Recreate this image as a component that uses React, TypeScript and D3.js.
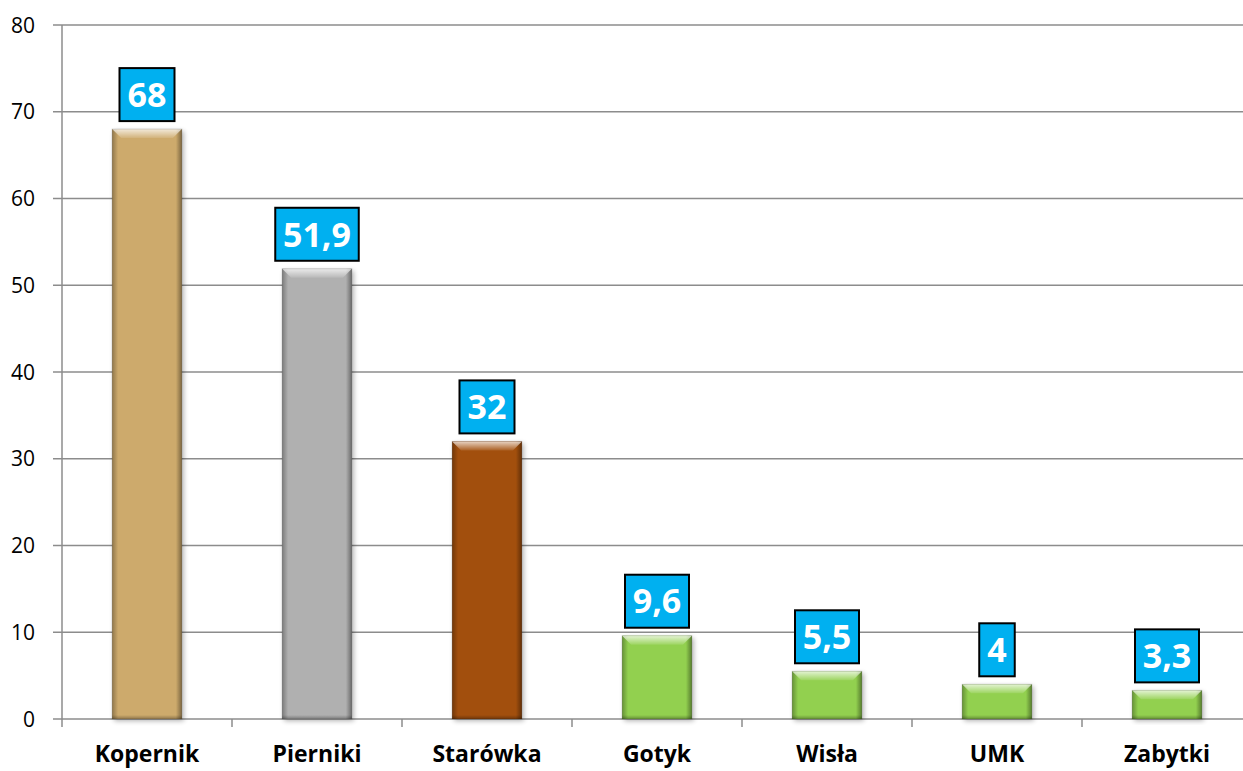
import * as React from 'react'
import { scaleBand, scaleLinear, range } from 'd3'

const categories = ['Kopernik', 'Pierniki', 'Starówka', 'Gotyk', 'Wisła', 'UMK', 'Zabytki']
const values = [68, 51.9, 32, 9.6, 5.5, 4, 3.3]
const valueLabels = ['68', '51,9', '32', '9,6', '5,5', '4', '3,3']
const barColors = ['#CDAA6C', '#B0B0B0', '#A24F0E', '#92D050', '#92D050', '#92D050', '#92D050']
const yTicks = range(0, 81, 10)

const width = 1243
const height = 771
const margin = { left: 62, top: 25, bottom: 52 }
const plotRight = 1252

const font = '"Open Sans", sans-serif'

function labelWidth(t: string) {
  let w = 16
  for (const ch of t) w += ch === ',' ? 9 : 19.5
  return w
}

function App() {
  const x = scaleBand<string>()
    .domain(categories)
    .range([margin.left, plotRight])
    .paddingInner(0.59)
    .paddingOuter(0.295)
  const y = scaleLinear().domain([0, 80]).range([height - margin.bottom, margin.top])
  const y0 = y(0)
  const bw = x.bandwidth()
  const bev = 9
  const side = 6

  return (
    <svg width={width} height={height} style={{ position: 'absolute', left: 0, top: 0, background: '#fff' }}>
      <defs>
        <filter id="shadow" x="-20%" y="-20%" width="140%" height="140%">
          <feGaussianBlur in="SourceAlpha" stdDeviation="2.5" />
          <feOffset dx="2" dy="2" result="b" />
          <feComponentTransfer>
            <feFuncA type="linear" slope="0.3" />
          </feComponentTransfer>
          <feMerge>
            <feMergeNode />
            <feMergeNode in="SourceGraphic" />
          </feMerge>
        </filter>
        <linearGradient id="gTop" x1="0" y1="0" x2="0" y2="1">
          <stop offset="0" stopColor="#fff" stopOpacity={0.75} />
          <stop offset="1" stopColor="#fff" stopOpacity={0.1} />
        </linearGradient>
        <linearGradient id="gLeft" x1="0" y1="0" x2="1" y2="0">
          <stop offset="0" stopColor="#000" stopOpacity={0.3} />
          <stop offset="1" stopColor="#000" stopOpacity={0} />
        </linearGradient>
        <linearGradient id="gRight" x1="1" y1="0" x2="0" y2="0">
          <stop offset="0" stopColor="#000" stopOpacity={0.4} />
          <stop offset="1" stopColor="#000" stopOpacity={0} />
        </linearGradient>
        <linearGradient id="gBottom" x1="0" y1="1" x2="0" y2="0">
          <stop offset="0" stopColor="#000" stopOpacity={0.3} />
          <stop offset="1" stopColor="#000" stopOpacity={0} />
        </linearGradient>
      </defs>

      {/* grid + y axis */}
      {yTicks.map((t) => (
        <g key={t}>
          <line x1={margin.left - 9} x2={width} y1={y(t)} y2={y(t)} stroke="#8C8C8C" strokeWidth={1.5} />
          <text x={35} y={y(t)} dy="0.36em" textAnchor="end" fontFamily={font} fontSize={21} fill="#000">
            {t}
          </text>
        </g>
      ))}
      <line x1={margin.left} x2={margin.left} y1={y(80)} y2={y0} stroke="#8C8C8C" strokeWidth={1.5} />
      {range(0, categories.length + 1).map((i) => {
        const xx = margin.left + i * x.step()
        return <line key={i} x1={xx} x2={xx} y1={y0} y2={y0 + 8} stroke="#8C8C8C" strokeWidth={1.5} />
      })}

      {/* bars */}
      {categories.map((c, i) => {
        const x0 = x(c) as number
        const top = y(values[i])
        const col = barColors[i]
        const h = y0 - top
        const b = Math.min(bev, h / 2)
        return (
          <g key={c}>
            <rect x={x0} y={top} width={bw} height={h} fill={col} filter="url(#shadow)" />
            <rect x={x0} y={top} width={side} height={h} fill="url(#gLeft)" />
            <rect x={x0 + bw - side} y={top} width={side} height={h} fill="url(#gRight)" />
            <rect x={x0} y={y0 - 4} width={bw} height={4} fill="url(#gBottom)" />
            <polygon
              points={`${x0},${top} ${x0 + bw},${top} ${x0 + bw - b},${top + b} ${x0 + b},${top + b}`}
              fill="url(#gTop)"
            />
            <rect x={x0} y={top} width={bw} height={h} fill="none" stroke="#000" strokeOpacity={0.15} strokeWidth={1} />
          </g>
        )
      })}

      {/* value labels */}
      {categories.map((c, i) => {
        const cx = (x(c) as number) + bw / 2
        const lw = labelWidth(valueLabels[i])
        const bottom = y(values[i]) - 8
        const lh = 53
        return (
          <g key={c}>
            <rect x={cx - lw / 2} y={bottom - lh} width={lw} height={lh} fill="#00B0F0" stroke="#000" strokeWidth={2} />
            <text
              x={cx}
              y={bottom - lh / 2}
              dy="0.36em"
              textAnchor="middle"
              fontFamily={font}
              fontWeight="bold"
              fontSize={34}
              fill="#fff"
            >
              {valueLabels[i]}
            </text>
          </g>
        )
      })}

      {/* category labels */}
      {categories.map((c) => (
        <text
          key={c}
          x={(x(c) as number) + bw / 2}
          y={762}
          textAnchor="middle"
          fontFamily={font}
          fontWeight="bold"
          fontSize={23}
          fill="#000"
        >
          {c}
        </text>
      ))}
    </svg>
  )
}

export default App
